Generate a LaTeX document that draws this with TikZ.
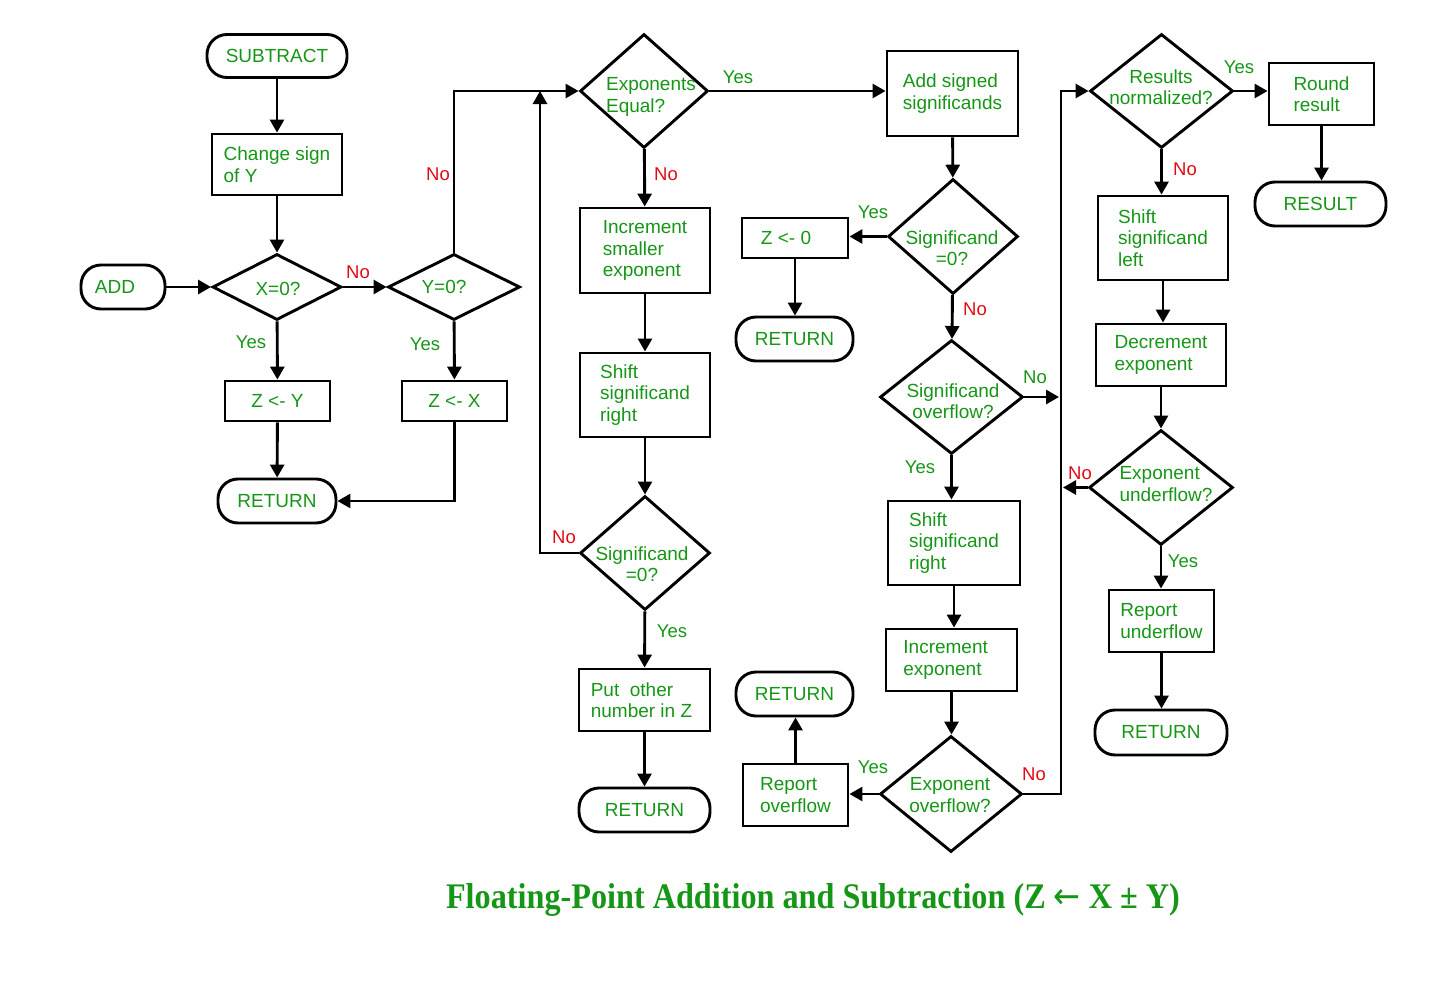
\documentclass[tikz,border=0pt]{standalone}
\usepackage{fontspec}
\usepackage{graphicx}
\setmainfont{Liberation Sans}
\newfontfamily\titlefont{Liberation Serif}
\newfontfamily\arrowfont{DejaVu Sans}
\usetikzlibrary{shapes.geometric,arrows.meta}
\definecolor{tgreen}{RGB}{22,150,22}
\definecolor{tred}{RGB}{225,10,20}
\begin{document}
\begin{tikzpicture}[x=1pt,y=-1pt,
  every node/.style={font=\fontsize{19}{21.5}\selectfont, text=tgreen},
  ln/.style={line width=2.9pt},
  arr/.style={ln, -{Triangle[length=13pt,width=14pt]}},
  box/.style={draw, ln, rectangle, align=left, inner sep=0pt},
  term/.style={draw, ln, rectangle, rounded corners=20pt, inner sep=0pt, minimum height=44pt},
  dia/.style={draw, ln, diamond, inner sep=0pt},
  dtext/.style={align=center, inner sep=0pt},
  yes/.style={text=tgreen, font=\fontsize{18.5}{20}\selectfont},
  no/.style={text=tred, font=\fontsize{18.5}{20}\selectfont}
]
\useasboundingbox (0,0) rectangle (1446,982);

% column 1
\node[term, minimum width=140pt, minimum height=43pt] (sub) at (277,56) {SUBTRACT};
\node[box, minimum width=130pt, minimum height=61pt] (chg) at (277,164.5) {Change sign\\of Y};
\node[term, minimum width=84pt] (add) at (123,287) {ADD\hspace*{16pt}};
\node[dia, minimum width=129pt, minimum height=66pt] (x0) at (277,287) {};
\node[dtext] (x0t) at (278,289) {X=0?};
\node[dia, minimum width=132pt, minimum height=66pt] (y0) at (454,287) {};
\node[dtext] (y0t) at (444,287) {Y=0?};
\node[box, minimum width=105pt, minimum height=40pt] (zy) at (277.5,401) {Z <- Y};
\node[box, minimum width=105pt, minimum height=40pt] (zx) at (454.5,401) {Z <- X};
\node[term, minimum width=118pt] (ret1) at (277,501) {RETURN};

% column 2
\node[dia, minimum width=128pt, minimum height=114pt] (ee) at (644,91) {};
\node[dtext, align=left] (eet) at (651,97) {Exponents\\Equal?};
\node[box, minimum width=130pt, minimum height=85pt] (incs) at (645,250.5) {Increment\\smaller\\exponent};
\node[box, minimum width=130pt, minimum height=84pt] (shr1) at (645,395) {Shift\\significand\\right};
\node[dia, minimum width=130pt, minimum height=114pt] (s0a) at (645,553) {};
\node[dtext] (s0at) at (642,564) {Significand\\=0?};
\node[box, minimum width=131pt, minimum height=62pt] (put) at (644.5,700) {Put\ \ other\\number in Z\hspace*{6pt}};
\node[term, minimum width=131pt] (ret2) at (644.5,810) {RETURN};

% column 3
\node[box, minimum width=131pt, minimum height=85pt] (adds) at (952.5,93.5) {Add signed\\significands};
\node[dia, minimum width=130pt, minimum height=115pt] (s0b) at (953,236.5) {};
\node[dtext] (s0bt) at (952,248) {Significand\\=0?};
\node[box, minimum width=106pt, minimum height=40pt] (z0) at (795,238) {Z <- 0\hspace*{18pt}};
\node[term, minimum width=117pt] (ret3) at (794.5,339) {RETURN};
\node[dia, minimum width=143pt, minimum height=114pt] (sovf) at (951.5,397) {};
\node[dtext] (sovft) at (953,401) {Significand\\overflow?};
\node[box, minimum width=132pt, minimum height=84pt] (shr2) at (954,543) {Shift\\significand\\right};
\node[box, minimum width=131pt, minimum height=62pt] (incx) at (951.5,660) {Increment\\exponent\hspace*{18pt}};
\node[dia, minimum width=142pt, minimum height=116pt] (eovf) at (951,794) {};
\node[dtext] (eovft) at (950,795) {Exponent\\overflow?};
\node[box, minimum width=105pt, minimum height=62pt] (rovf) at (795.5,795) {Report\\overflow};
\node[term, minimum width=117pt] (ret4) at (794.5,694) {RETURN};

% column 4
\node[dia, minimum width=143pt, minimum height=114pt] (rnorm) at (1161.5,91) {};
\node[dtext] (rnormt) at (1161,87) {Results\\normalized?};
\node[box, minimum width=105pt, minimum height=62pt] (round) at (1321.5,94) {Round\\result};
\node[term, minimum width=131pt] (result) at (1320.5,204) {RESULT};
\node[box, minimum width=130pt, minimum height=84pt] (shl) at (1163,238) {Shift\\significand\\left};
\node[box, minimum width=130pt, minimum height=62pt] (dec) at (1161,355) {Decrement\\exponent};
\node[dia, minimum width=144pt, minimum height=115pt] (eund) at (1161,487.5) {};
\node[dtext, align=left] (eundt) at (1166,484) {Exponent\\underflow?};
\node[box, minimum width=105pt, minimum height=62pt] (rund) at (1161.5,621) {Report\\underflow};
\node[term, minimum width=132pt, minimum height=45pt] (ret5) at (1161,732.5) {RETURN};

% free ends
\coordinate (loopTop) at (540,91);
\coordinate (busTop) at (1061,91);
\coordinate (busA) at (1059,397);
\coordinate (busB) at (1063,487.5);

% connectors column 1
\draw[arr] (sub) -- (chg);
\draw[arr] (chg) -- (x0);
\draw[arr] (add) -- (x0);
\draw[arr] (x0) -- (y0);
\draw[arr] (x0) -- (zy);
\draw[arr] (y0) -- (zx);
\draw[arr] (zy) -- (ret1);
\draw[arr] (zx.south) |- (ret1.east);
\draw[arr] (y0.north) |- (ee.west);

% column 2
\draw[arr] (s0a.west) -| (loopTop);
\draw[arr] (ee) -- (incs);
\draw[arr] (incs) -- (shr1);
\draw[arr] (shr1) -- (s0a);
\draw[arr] (s0a) -- (put);
\draw[arr] (put) -- (ret2);
\draw[arr] (ee.east) -- (ee.east -| adds.west);

% column 3
\draw[arr] (adds) -- (s0b);
\draw[arr] (s0b.west) -- (s0b.west -| z0.east);
\draw[arr] (z0.south) -- (z0.south |- ret3.north);
\draw[arr] (s0b) -- (sovf);
\draw[arr] (sovf.east) -- (busA);
\draw[arr] (sovf) -- (sovf.south |- shr2.north);
\draw[arr] (shr2.south) -- (shr2.south |- incx.north);
\draw[arr] (incx) -- (incx.south |- eovf.north);
\draw[arr] (eovf.west) -- (eovf.west -| rovf.east);
\draw[arr] (rovf.north) -- (rovf.north |- ret4.south);
\draw[arr] (eovf.east) -| (busTop) -- (rnorm.west);

% column 4
\draw[arr] (rnorm.east) -- (rnorm.east -| round.west);
\draw[arr] (round.south) -- (round.south |- result.north);
\draw[arr] (rnorm) -- (rnorm.south |- shl.north);
\draw[arr] (shl.south) -- (shl.south |- dec.north);
\draw[arr] (dec) -- (eund);
\draw[arr] (eund.west) -- (busB);
\draw[arr] (eund) -- (eund.south |- rund.north);
\draw[arr] (rund) -- (rund.south |- ret5.north);

% labels
\node[no] (l1) at (438,174) {No};
\node[no] (l2) at (358,272) {No};
\node[yes] (l3) at (251,342) {Yes};
\node[yes] (l4) at (425,344) {Yes};
\node[yes] (l5) at (738,77) {Yes};
\node[no] (l6) at (666,174) {No};
\node[no] (l7) at (564,537) {No};
\node[yes] (l8) at (672,631) {Yes};
\node[yes] (l9) at (873,212) {Yes};
\node[no] (l10) at (975,309) {No};
\node[yes] (l11) at (1035,377) {No};
\node[yes] (l12) at (920,467) {Yes};
\node[yes] (l13) at (873,767) {Yes};
\node[no] (l14) at (1034,774) {No};
\node[yes] (l15) at (1239,67) {Yes};
\node[no] (l16) at (1185,169) {No};
\node[no] (l17) at (1080,473) {No};
\node[yes] (l18) at (1183,561) {Yes};

% title
\node (title) at (813,900) {\titlefont\bfseries\fontsize{36}{36}\selectfont\scalebox{0.895}[1]{Floating-Point Addition and Subtraction (Z {\arrowfont\mdseries ←} X ± Y)}};
\end{tikzpicture}
\end{document}
